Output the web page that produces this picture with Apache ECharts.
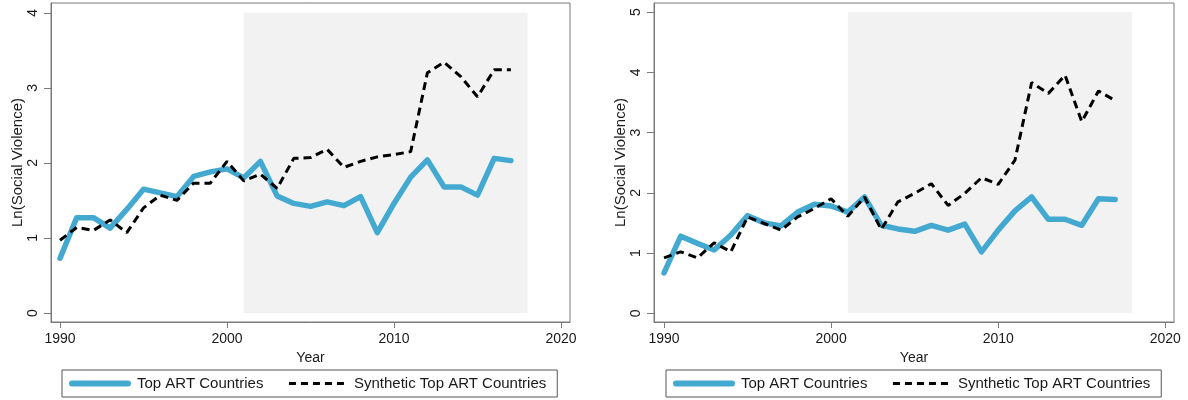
<!DOCTYPE html>
<html>
<head>
<meta charset="utf-8">
<title>Ln(Social Violence): Top ART Countries vs Synthetic</title>
<script src="https://cdn.jsdelivr.net/npm/echarts@6/dist/echarts.min.js"></script>
<style>
  html, body { margin: 0; padding: 0; background: #ffffff; }
  #chart { width: 1188px; height: 400px; }
</style>
</head>
<body>
<div id="chart"></div>
<script>
// Years observed in both panels
const years = [1990, 1991, 1992, 1993, 1994, 1995, 1996, 1997, 1998, 1999,
               2000, 2001, 2002, 2003, 2004, 2005, 2006, 2007, 2008, 2009,
               2010, 2011, 2012, 2013, 2014, 2015, 2016, 2017];

// Left panel
const leftTop   = [0.73, 1.27, 1.27, 1.13, 1.38, 1.65, 1.60, 1.55, 1.82, 1.88,
                   1.92, 1.80, 2.02, 1.56, 1.46, 1.42, 1.48, 1.43, 1.55, 1.07,
                   1.46, 1.81, 2.04, 1.68, 1.68, 1.57, 2.06, 2.03];
const leftSynth = [0.97, 1.14, 1.10, 1.24, 1.07, 1.40, 1.57, 1.50, 1.73, 1.73,
                   2.02, 1.76, 1.85, 1.66, 2.06, 2.07, 2.18, 1.94, 2.02, 2.08,
                   2.11, 2.15, 3.20, 3.34, 3.15, 2.88, 3.24, 3.24];

// Right panel
const rightTop   = [0.67, 1.28, 1.16, 1.05, 1.30, 1.62, 1.50, 1.45, 1.68, 1.81,
                    1.78, 1.68, 1.93, 1.46, 1.40, 1.36, 1.46, 1.38, 1.48, 1.02,
                    1.38, 1.70, 1.93, 1.56, 1.56, 1.46, 1.90, 1.89];
const rightSynth = [0.92, 1.02, 0.92, 1.17, 1.02, 1.60, 1.49, 1.38, 1.60, 1.74,
                    1.90, 1.61, 1.93, 1.39, 1.85, 1.99, 2.15, 1.79, 1.99, 2.25,
                    2.14, 2.54, 3.83, 3.65, 3.95, 3.18, 3.69, 3.53];

// Tick labels
const xTicks = [1990, 2000, 2010, 2020];
const leftYTicks = [0, 1, 2, 3, 4];
const rightYTicks = [0, 1, 2, 3, 4, 5];

// Post-treatment window (shaded)
const shadeYears = [2001, 2018];

const seriesNames = ['Top ART Countries', 'Synthetic Top ART Countries'];

const BLUE = '#44a9d0';
const FRAME = '#7a7a7a';
const TEXT = '#1a1a1a';
const FONT = '"Liberation Sans", Arial, sans-serif';

const pairs = (vals) => years.map((y, i) => [y, vals[i]]);

const grids = [
  { left: 51, top: 3, width: 519, height: 319 },
  { left: 654, top: 3, width: 520, height: 319 }
];

function xAxisFor(gridIndex, min, max) {
  return {
    type: 'value', gridIndex, min, max,
    name: 'Year', nameLocation: 'middle', nameGap: 25,
    nameTextStyle: { color: TEXT, fontSize: 14, fontFamily: FONT },
    splitLine: { show: false },
    axisLine: { show: true, onZero: false, lineStyle: { color: FRAME, width: 1 } },
    axisTick: { show: true, length: 6, customValues: xTicks, lineStyle: { color: FRAME } },
    axisLabel: { customValues: xTicks, margin: 10, color: TEXT, fontSize: 14, fontFamily: FONT,
                 formatter: (v) => String(v) }
  };
}

function yAxisFor(gridIndex, min, max, ticks) {
  return {
    type: 'value', gridIndex, min, max,
    name: 'Ln(Social Violence)', nameLocation: 'middle', nameGap: 25,
    nameTextStyle: { color: TEXT, fontSize: 15, fontFamily: FONT },
    splitLine: { show: false },
    axisLine: { show: true, onZero: false, lineStyle: { color: FRAME, width: 1 } },
    axisTick: { show: true, length: 7, customValues: ticks, lineStyle: { color: FRAME } },
    axisLabel: { customValues: ticks, rotate: 90, margin: 11, color: TEXT, fontSize: 14, fontFamily: FONT,
                 formatter: (v) => String(v) }
  };
}

function panelSeries(idx, topVals, synthVals, yTop) {
  return [
    {
      type: 'line', xAxisIndex: idx, yAxisIndex: idx, data: [], silent: true, z: 1,
      markArea: {
        silent: true,
        itemStyle: { color: '#f2f2f2' },
        data: [[{ xAxis: shadeYears[0], yAxis: 0 }, { xAxis: shadeYears[1], yAxis: yTop }]]
      }
    },
    {
      name: seriesNames[0], type: 'line', xAxisIndex: idx, yAxisIndex: idx, z: 3,
      data: pairs(topVals), symbol: 'none', animation: false,
      itemStyle: { color: BLUE },
      lineStyle: { color: BLUE, width: 5.5, cap: 'round', join: 'round' }
    },
    {
      name: seriesNames[1], type: 'line', xAxisIndex: idx, yAxisIndex: idx, z: 4,
      data: pairs(synthVals), symbol: 'none', animation: false,
      itemStyle: { color: '#000000' },
      lineStyle: { color: '#000000', width: 3, type: [8, 5] }
    }
  ];
}

function legendFor(left) {
  return {
    left, top: 370,
    data: [
      { name: seriesNames[0], lineStyle: { width: 6, color: BLUE, type: 'solid' } },
      { name: seriesNames[1], lineStyle: { width: 3, color: '#000000', type: [7, 5] } }
    ],
    orient: 'horizontal',
    itemWidth: 56, itemHeight: 14, itemGap: 24,
    padding: [6, 11, 6, 7],
    borderColor: '#555555', borderWidth: 1,
    selectedMode: false,
    itemStyle: { opacity: 0 },
    textStyle: { color: TEXT, fontSize: 15, fontFamily: FONT, padding: [0, 0, 0, 4] }
  };
}

const option = {
  backgroundColor: '#ffffff',
  animation: false,
  grid: grids.map(g => Object.assign({ show: true, borderColor: FRAME, borderWidth: 1, containLabel: false }, g)),
  xAxis: [xAxisFor(0, 1989.46, 2020.54), xAxisFor(1, 1989.40, 2020.52)],
  yAxis: [yAxisFor(0, -0.12, 4.13, leftYTicks), yAxisFor(1, -0.145, 5.15, rightYTicks)],
  legend: [legendFor(62), legendFor(666)],
  series: [
    ...panelSeries(0, leftTop, leftSynth, 4),
    ...panelSeries(1, rightTop, rightSynth, 5)
  ]
};

const chart = echarts.init(document.getElementById('chart'), null, { renderer: 'canvas' });
chart.setOption(option);
</script>
</body>
</html>
